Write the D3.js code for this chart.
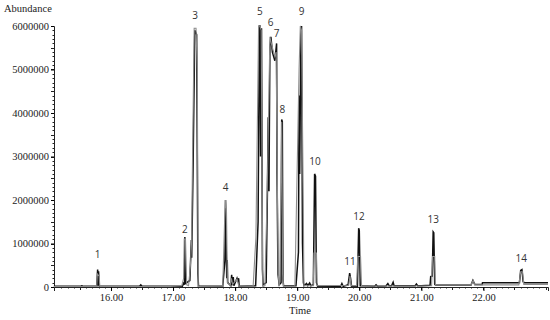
<!DOCTYPE html>
<html>
<head>
<meta charset="utf-8">
<script src="https://cdn.jsdelivr.net/npm/d3@7"></script>
<style>
  body { margin: 0; background: #fff; }
  svg { display: block; }
  .tick text { font-family: "Liberation Serif", serif; font-size: 10.5px; fill: #222; }
  .peak-label { font-family: "Open Sans", "Liberation Sans", sans-serif; font-size: 10px; fill: #333; }
</style>
</head>
<body>
<div id="chart"></div>
<script>
// retention time (min) and abundance
const blackTime = [15.08, 15.50, 15.53, 15.56, 15.77, 15.785, 15.793, 15.80, 15.812,
  16.46, 16.48, 16.50,
  17.15, 17.175, 17.185, 17.19, 17.198, 17.27, 17.295, 17.30, 17.32, 17.35, 17.36, 17.38, 17.40, 17.41,
  17.80, 17.835, 17.845, 17.855, 17.865, 17.873, 17.88, 17.93, 17.944, 17.955, 17.97, 17.98, 18.03, 18.04, 18.056, 18.065,
  18.33, 18.37, 18.39, 18.40, 18.41, 18.425, 18.44, 18.45,
  18.50, 18.52, 18.533, 18.545, 18.56, 18.576, 18.60, 18.64, 18.668, 18.675, 18.69, 18.71, 18.74, 18.75, 18.76, 18.77, 18.78,
  18.98, 19.02, 19.03, 19.04, 19.06, 19.07, 19.085, 19.10, 19.11,
  19.15, 19.17, 19.20, 19.22, 19.26, 19.28, 19.295, 19.31, 19.33,
  19.70, 19.72, 19.74, 19.82, 19.845, 19.86, 19.875, 19.97, 19.99, 20.00, 20.015,
  20.25, 20.27, 20.29, 20.43, 20.46, 20.48, 20.52, 20.545, 20.56, 20.90, 20.92, 20.94, 21.00,
  21.14, 21.15, 21.175, 21.19, 21.20, 21.215, 21.23, 21.80, 21.83, 21.86, 21.90, 21.98, 21.985,
  22.58, 22.60, 22.62, 22.64, 22.66, 23.04];
const blackAbund = [15000, 15000, 30000, 15000, 15000, 400000, 30000, 360000, 15000,
  15000, 50000, 15000,
  20000, 100000, 50000, 1150000, 80000, 150000, 1080000, 670000, 2500000, 5900000, 5870000, 5800000, 300000, 20000,
  20000, 600000, 2000000, 1000000, 200000, 620000, 100000, 30000, 280000, 40000, 230000, 30000, 200000, 150000, 200000, 20000,
  30000, 1500000, 6000000, 6000000, 3000000, 5950000, 400000, 50000,
  100000, 2200000, 3900000, 2200000, 5500000, 5750000, 5400000, 5200000, 5600000, 2600000, 300000, 50000, 100000, 3850000, 3800000, 200000, 30000,
  30000, 800000, 4400000, 2600000, 5800000, 6000000, 1000000, 100000, 30000,
  80000, 30000, 90000, 30000, 50000, 2600000, 2550000, 100000, 15000,
  15000, 80000, 15000, 50000, 320000, 200000, 20000, 20000, 1350000, 1300000, 30000,
  20000, 50000, 20000, 25000, 80000, 30000, 30000, 110000, 30000, 30000, 70000, 30000, 30000,
  40000, 240000, 250000, 1270000, 1250000, 60000, 45000, 45000, 150000, 60000, 60000, 60000, 100000,
  100000, 380000, 400000, 120000, 100000, 100000];

const grayTime = [15.08, 15.77, 15.78, 15.81, 15.82,
  16.95, 17.14, 17.17, 17.18, 17.20, 17.22, 17.25, 17.28, 17.30, 17.31, 17.34, 17.37, 17.39, 17.405,
  17.80, 17.83, 17.845, 17.86, 17.875, 17.92, 17.94, 17.96, 18.03, 18.06,
  18.29, 18.335, 18.378, 18.40, 18.42, 18.445,
  18.48, 18.517, 18.56, 18.60, 18.64, 18.66, 18.694, 18.71, 18.72, 18.75, 18.765, 18.78,
  18.963, 19.03, 19.05, 19.07, 19.097, 19.108,
  19.258, 19.27, 19.31, 19.32,
  19.83, 19.85, 19.87, 19.956, 19.975, 20.02, 20.037,
  21.165, 21.18, 21.215, 21.225, 21.80, 21.834, 21.86, 22.57, 22.60, 22.63, 22.65, 23.04];
const grayAbund = [10000, 10000, 300000, 250000, 10000,
  10000, 30000, 200000, 1100000, 1100000, 50000, 30000, 500000, 1080000, 2500000, 5950000, 5950000, 5000000, 10000,
  20000, 1500000, 2000000, 1800000, 100000, 30000, 200000, 60000, 180000, 20000,
  20000, 1150000, 6000000, 6000000, 5900000, 10000,
  30000, 2200000, 5750000, 5500000, 5300000, 5400000, 300000, 20000, 300000, 3800000, 300000, 20000,
  20000, 5000000, 6000000, 5900000, 2000000, 30000,
  30000, 780000, 780000, 30000,
  40000, 250000, 30000, 30000, 700000, 700000, 20000,
  30000, 700000, 700000, 50000, 50000, 150000, 50000, 50000, 350000, 350000, 60000, 60000];

const peakNames = ["1", "2", "3", "4", "5", "6", "7", "8", "9", "10", "11", "12", "13", "14"];
const peakTime = [15.785, 17.19, 17.355, 17.845, 18.40, 18.57, 18.67, 18.76, 19.07, 19.285, 19.85, 19.995, 21.19, 22.61];
const peakLabelAbund = [660000, 1250000, 6150000, 2200000, 6250000, 5990000, 5750000, 4000000, 6250000, 2800000, 500000, 1540000, 1460000, 570000];

const yTicks = [0, 1000000, 2000000, 3000000, 4000000, 5000000, 6000000];
const xTicks = [16, 17, 18, 19, 20, 21, 22];

const width = 550, height = 320;
const margin = { top: 26, right: 2, bottom: 33, left: 54 };

const svg = d3.select('#chart').append('svg')
  .attr('width', width)
  .attr('height', height);

const x = d3.scaleLinear().domain([15.082, 23.04]).range([margin.left, width - margin.right]);
const y = d3.scaleLinear().domain([0, 6000000]).range([height - margin.bottom, margin.top]);

// minor ticks
const yMinor = d3.range(0, 6000001, 100000);
svg.append('g').selectAll('line').data(yMinor).enter().append('line')
  .attr('x1', d => margin.left - (d % 500000 === 0 ? 3 : 1.5))
  .attr('x2', margin.left)
  .attr('y1', d => Math.round(y(d)) + 0.5)
  .attr('y2', d => Math.round(y(d)) + 0.5)
  .attr('stroke', '#222').attr('stroke-width', 1);

const xMinor = d3.range(152, 231).map(d => d / 10);
svg.append('g').selectAll('line').data(xMinor).enter().append('line')
  .attr('x1', d => Math.round(x(d)) + 0.5)
  .attr('x2', d => Math.round(x(d)) + 0.5)
  .attr('y1', y(0))
  .attr('y2', d => y(0) + (Math.abs(d * 2 - Math.round(d * 2)) < 1e-6 ? 3 : 1.5))
  .attr('stroke', '#222').attr('stroke-width', 1);

const yAxis = d3.axisLeft(y).tickValues(yTicks).tickFormat(d3.format('d')).tickSize(3).tickPadding(2);
svg.append('g')
  .attr('transform', `translate(${margin.left},0)`)
  .call(yAxis)
  .call(g => g.select('.domain').attr('stroke', '#222'));

const xAxis = d3.axisBottom(x).tickValues(xTicks).tickFormat(d3.format('.2f')).tickSize(4).tickPadding(3);
svg.append('g')
  .attr('transform', `translate(0,${y(0)})`)
  .call(xAxis)
  .call(g => g.select('.domain').attr('stroke', '#222'));

// traces: black sample first, grey sample drawn over it
const line = d3.line().x(d => x(d[0])).y(d => y(d[1]));

svg.append('path')
  .datum(blackTime.map((t, i) => [t, blackAbund[i]]))
  .attr('d', line)
  .attr('fill', 'none')
  .attr('stroke', '#111')
  .attr('stroke-width', 1.5);

svg.append('path')
  .datum(grayTime.map((t, i) => [t, grayAbund[i]]))
  .attr('d', line)
  .attr('fill', 'none')
  .attr('stroke', '#8c8c8c')
  .attr('stroke-width', 1.1);

// peak numbers
svg.append('g').selectAll('text')
  .data(peakNames)
  .enter().append('text')
  .attr('class', 'peak-label')
  .attr('x', (d, i) => x(peakTime[i]))
  .attr('y', (d, i) => y(peakLabelAbund[i]))
  .attr('text-anchor', 'middle')
  .text(d => d);

svg.append('text')
  .attr('x', 4).attr('y', 12)
  .style('font-family', '"Liberation Serif", serif')
  .style('font-size', '10.5px')
  .attr('fill', '#222')
  .text('Abundance');

svg.append('text')
  .attr('x', 300).attr('y', 314)
  .attr('text-anchor', 'middle')
  .style('font-family', '"Liberation Serif", serif')
  .style('font-size', '10.5px')
  .attr('fill', '#222')
  .text('Time');
</script>
</body>
</html>
